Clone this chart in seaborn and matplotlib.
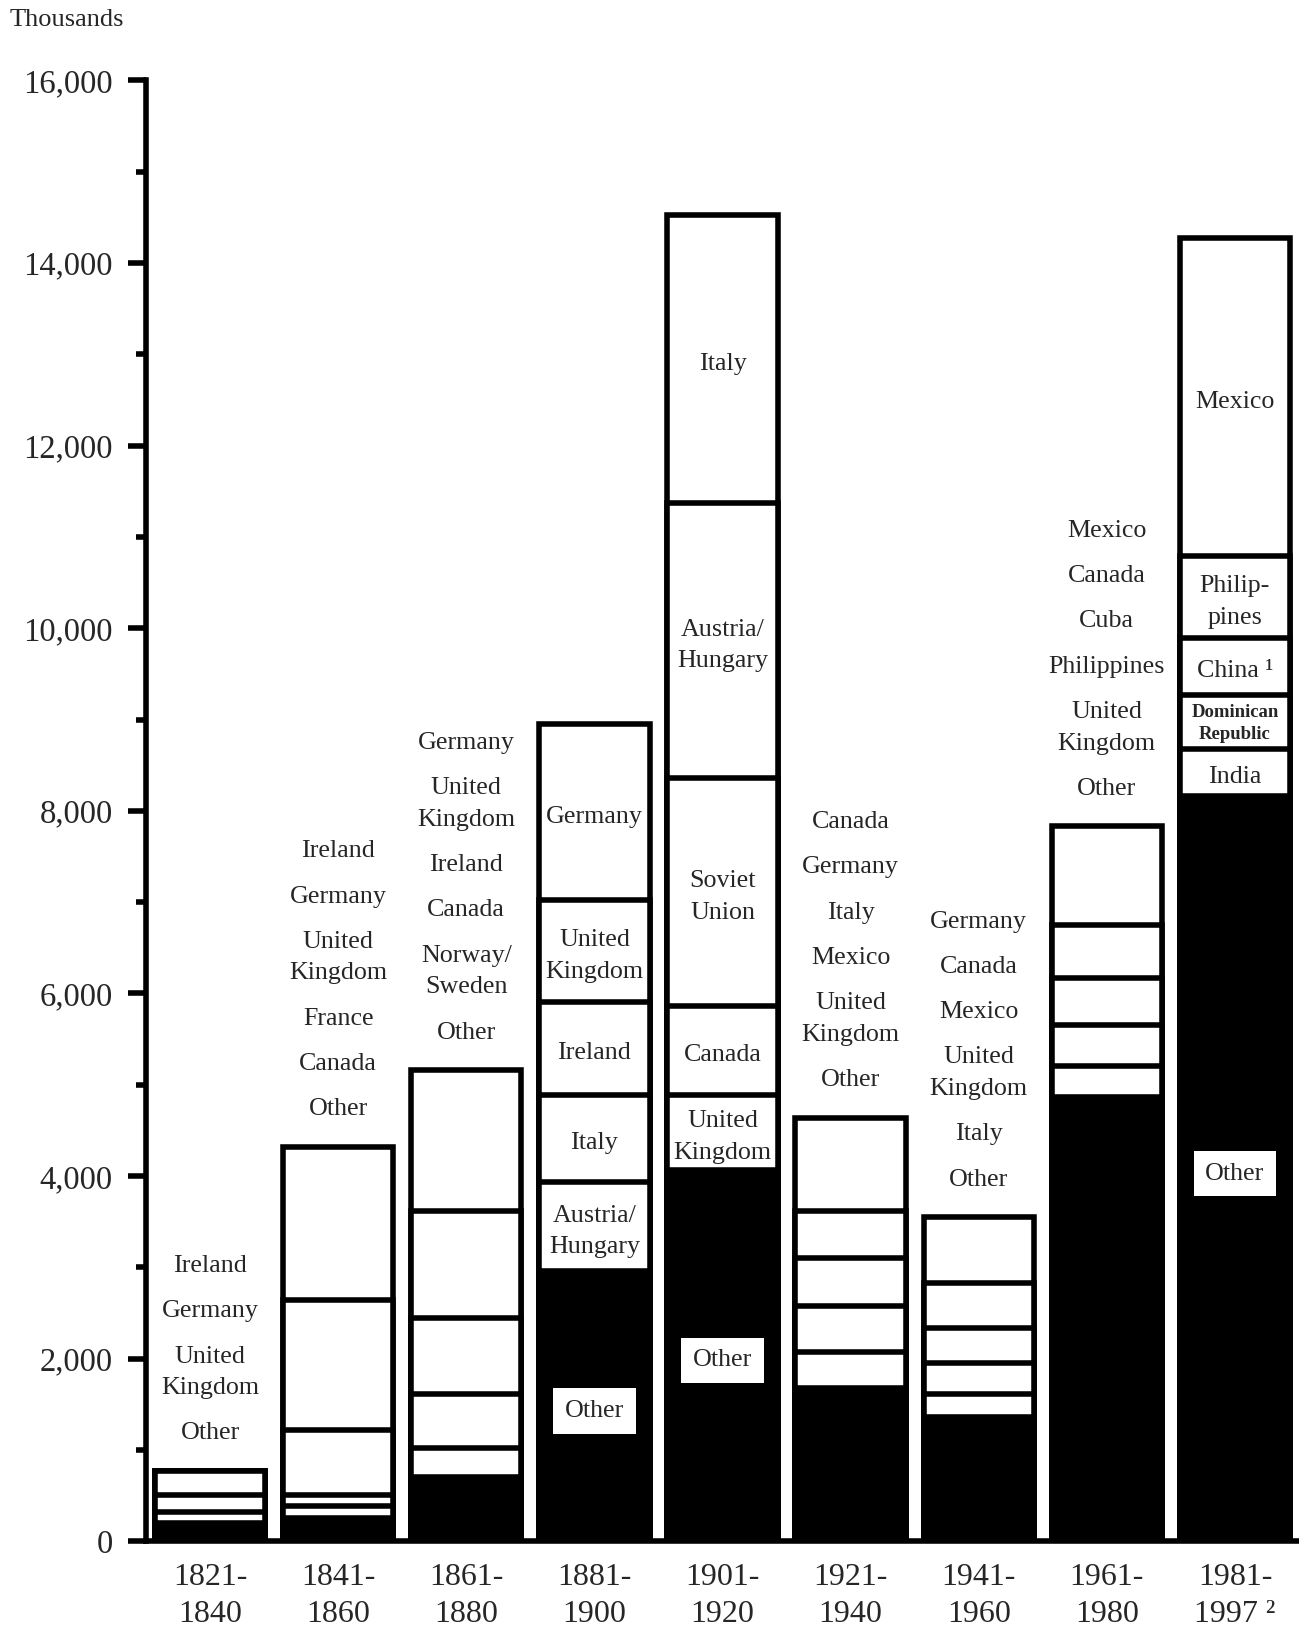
import numpy as np
import pandas as pd
import matplotlib
matplotlib.use("Agg")
import matplotlib.pyplot as plt
import seaborn as sns
from matplotlib.ticker import MultipleLocator, StrMethodFormatter

# periods (x categories)
periods = ['1821-\n1840', '1841-\n1860', '1861-\n1880', '1881-\n1900', '1901-\n1920',
           '1921-\n1940', '1941-\n1960', '1961-\n1980', '1981-\n1997 \u00b2']

# countries per period, listed from the top of the bar down (last = Other), thousands
countries_1821 = ['Ireland', 'Germany', 'United\nKingdom', 'Other']
values_1821 = [260, 190, 125, 195]
countries_1841 = ['Ireland', 'Germany', 'United\nKingdom', 'France', 'Canada', 'Other']
values_1841 = [1680, 1420, 710, 125, 130, 255]
countries_1861 = ['Germany', 'United\nKingdom', 'Ireland', 'Canada', 'Norway/\nSweden', 'Other']
values_1861 = [1540, 1170, 840, 590, 315, 705]
countries_1881 = ['Germany', 'United\nKingdom', 'Ireland', 'Italy', 'Austria/\nHungary', 'Other']
values_1881 = [1930, 1110, 1020, 960, 970, 2960]
countries_1901 = ['Italy', 'Austria/\nHungary', 'Soviet\nUnion', 'Canada', 'United\nKingdom', 'Other']
values_1901 = [3160, 3010, 2500, 970, 820, 4070]
countries_1921 = ['Canada', 'Germany', 'Italy', 'Mexico', 'United\nKingdom', 'Other']
values_1921 = [1020, 520, 520, 510, 390, 1680]
countries_1941 = ['Germany', 'Canada', 'Mexico', 'United\nKingdom', 'Italy', 'Other']
values_1941 = [720, 495, 385, 340, 250, 1360]
countries_1961 = ['Mexico', 'Canada', 'Cuba', 'Philippines', 'United\nKingdom', 'Other']
values_1961 = [1080, 580, 520, 450, 330, 4870]
countries_1981 = ['Mexico', 'Philip-\npines', 'China \u00b9', 'Dominican\nRepublic', 'India', 'Other']
values_1981 = [3480, 900, 620, 590, 520, 8160]

countries = [countries_1821, countries_1841, countries_1861, countries_1881, countries_1901,
             countries_1921, countries_1941, countries_1961, countries_1981]
values = [values_1821, values_1841, values_1861, values_1881, values_1901,
          values_1921, values_1941, values_1961, values_1981]
# which bars carry their labels inside the segments
inside = [False, False, False, True, True, False, False, False, True]

sns.set_style("ticks")
plt.rcParams['font.family'] = ['Liberation Serif', 'DejaVu Serif']

LW = 4
LABEL_SIZE = 18.7
LINE_GAP = 22.8     # pts between lines of one label
ITEM_GAP = 32.6     # pts between labels in the lists above bars
BASE = 27           # pts from bar top to the lowest listed label
IN_SHIFT = -3.5     # labels inside the bars sit a bit low

# cumulative heights from the bottom, padded to 6 levels
nlev = max(len(v) for v in values)
rows = []
for p, v in zip(periods, values):
    bottom_up = list(v[::-1]) + [0] * (nlev - len(v))
    cum = np.cumsum(bottom_up)
    for lev in range(nlev):
        rows.append({'period': p, 'level': lev, 'cum': cum[lev]})
df = pd.DataFrame(rows)

fig = plt.figure(figsize=(12.99, 16.27), dpi=100)
ax = fig.add_axes([146 / 1299, 0.0527, 1153 / 1299, 0.8979])

# draw from the full stack down, each lower level painted on top
for lev in range(nlev - 1, -1, -1):
    sub = df[df['level'] == lev]
    sns.barplot(data=sub, x='period', y='cum', order=periods, ax=ax,
                color='black' if lev == 0 else 'white', saturation=1,
                edgecolor='black', linewidth=LW, width=0.861, errorbar=None)


def put_label(x, y, label, off=0, size=LABEL_SIZE, gap=LINE_GAP, weight='normal', box=False):
    lines = label.split('\n')
    n = len(lines)
    for j, line in enumerate(lines):
        dy = off + ((n - 1) / 2 - j) * gap
        kw = {}
        if box:
            kw['bbox'] = dict(boxstyle='square,pad=0.45', facecolor='white', edgecolor='none')
        ax.annotate(line, (x, y), xytext=(0, dy), textcoords='offset points',
                    ha='center', va='center', fontsize=size, fontweight=weight, **kw)


for i, (names, v) in enumerate(zip(countries, values)):
    total = sum(v)
    if inside[i]:
        top = total
        for name, val in zip(names, v):
            mid = top - val / 2
            if name == 'Other':
                put_label(i, mid, name, off=IN_SHIFT, box=True)
            elif name.startswith('Dominican'):
                put_label(i, mid, name, off=-1, size=13.5, gap=15.7, weight='bold')
            else:
                put_label(i, mid, name, off=IN_SHIFT)
            top -= val
    else:
        off = BASE
        for name in names[::-1]:
            n = name.count('\n') + 1
            put_label(i, total, name, off=off + (n - 1) * LINE_GAP / 2)
            off += (n - 1) * LINE_GAP + ITEM_GAP

ax.set_xlim(-0.5, 8.5)
ax.set_ylim(0, 16000)
ax.set_xlabel('')
ax.set_ylabel('')
ax.yaxis.set_major_locator(MultipleLocator(2000))
ax.yaxis.set_minor_locator(MultipleLocator(1000))
ax.yaxis.set_major_formatter(StrMethodFormatter('{x:,.0f}'))

for side in ['top', 'right']:
    ax.spines[side].set_visible(False)
for side in ['left', 'bottom']:
    ax.spines[side].set_linewidth(LW)
    ax.spines[side].set_color('black')

ax.tick_params(axis='y', which='major', direction='out', length=13, width=LW,
               labelsize=23.5, pad=11, color='black')
ax.tick_params(axis='y', which='minor', direction='out', length=7, width=LW, color='black')
ax.tick_params(axis='x', length=0, labelsize=23, pad=16)
for lab in ax.get_xticklabels():
    lab.set_linespacing(1.33)

fig.text(10 / 1299, 1 - 20.5 / 1627, 'Thousands', fontsize=19, ha='left', va='center')

fig.savefig('out.png', dpi=100)
